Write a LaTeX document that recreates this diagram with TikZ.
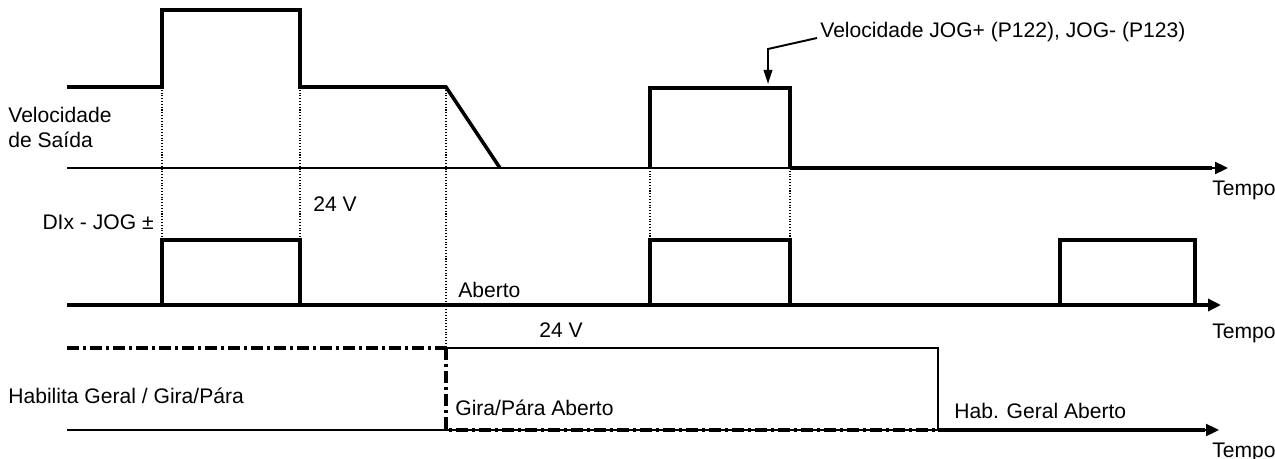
\documentclass[tikz,border=0pt]{standalone}
\usepackage{fontspec}
\setmainfont{Liberation Sans}
\usetikzlibrary{arrows.meta,positioning}
\tikzset{
  >={Triangle[length=2.6mm,width=2.4mm]},
  axis/.style={line width=1.3pt},
  wave/.style={line width=2pt,line join=miter},
  heavy/.style={line width=2.5pt},
  guide/.style={densely dotted,line width=0.6pt},
  enable/.style={line width=2pt,dash pattern=on 0.24cm off 0.08cm on 0.06cm off 0.08cm},
  lbl/.style={font=\fontsize{12}{14.2}\selectfont,inner sep=0pt,align=left},
}
\begin{document}
\begin{tikzpicture}[x=0.02cm,y=-0.02cm]
  \useasboundingbox (0,0) rectangle (1275,459);
  % guide lines between the traces
  \draw[guide] (162,87) -- (162,240);
  \draw[guide] (300,87) -- (300,240);
  \draw[guide] (446,87) -- (446,348);
  \draw[guide] (650,168) -- (650,240);
  \draw[guide] (790,168) -- (790,240);

  % output speed
  \draw[axis,->] (67,168) -- (1228,168);
  \draw[wave] (67,87) -- (162,87) -- (162,10) -- (300,10) -- (300,87) -- (446,87) -- (500,168);
  \draw[wave] (650,168) -- (650,88) -- (790,88) -- (790,168);
  \draw[heavy] (790,168) -- (1212,168);

  % DIx - JOG
  \draw[wave,->] (67,305) -- (1221,305);
  \foreach \a/\b in {162/300,650/790,1060/1195}
    \draw[wave] (\a,305) -- (\a,240) -- (\b,240) -- (\b,305);

  % general enable / run-stop
  \draw[axis,->] (67,430) -- (1219,430);
  \draw[enable] (67,348) -- (446,348);
  \draw[enable] (446,348) -- (446,430) -- (938,430);
  \draw[axis] (446,348) -- (938,348) -- (938,430);
  \draw[wave] (938,430) -- (1205,430);

  % labels
  \node[lbl,anchor=west] (vout) at (8,127) {Velocidade\\de Saída};
  \node[lbl,anchor=east] (dix) at (154,222) {DIx - JOG ±};
  \node[lbl,anchor=west] (vhigh) at (313,204) {24 V};
  \node[lbl,anchor=west] (open) at (458,290) {Aberto};
  \node[lbl,anchor=west] (t1) at (1212,190) {Tempo};
  \node[lbl,anchor=west] (t2) at (1212,333) {Tempo};
  \node[lbl,anchor=west] (t3) at (1212,452) {Tempo};
  \node[lbl,anchor=west] (ehigh) at (539,330) {24 V};
  \node[lbl,anchor=west] (enlbl) at (8,396) {Habilita Geral / Gira/Pára};
  \node[lbl,anchor=west] (gpopen) at (455,408) {Gira/Pára Aberto};
  \node[lbl,anchor=west] (hgopen) at (954,411) {Hab. Geral Aberto};
  \node[lbl,anchor=west] (joglbl) at (820,32) {Velocidade JOG+ (P122), JOG- (P123)};

  % pointer to the jog level
  \coordinate (jogbend) at (768,49);
  \coordinate (jogtip) at (768,84);
  \draw[line width=1.1pt,-{Triangle[length=2.8mm,width=1.7mm]}]
    ([shift={(-3,6)}]joglbl.west) -- (jogbend) -- (jogtip);
\end{tikzpicture}
\end{document}
